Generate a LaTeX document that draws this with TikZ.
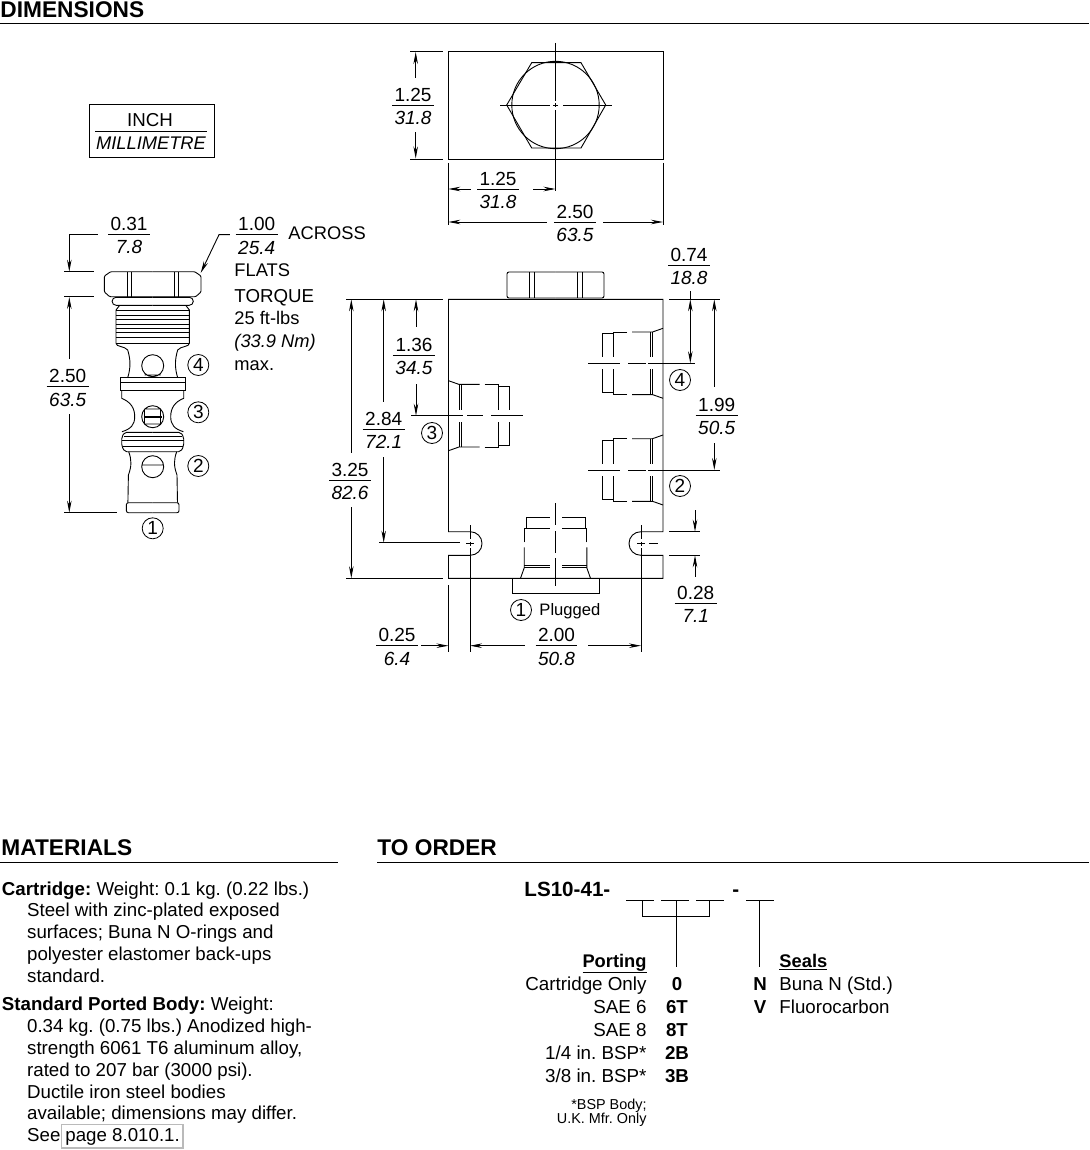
\documentclass[tikz,border=0pt]{standalone}
\usepackage{fontspec}
\setmainfont{Liberation Sans}
\usetikzlibrary{arrows.meta}

\newcommand{\fsize}[1]{\fontsize{#1}{#1}\selectfont}
\newcommand{\dimfrac}[2]{\renewcommand{\arraystretch}{.5}\setlength{\arrayrulewidth}{.9pt}\begin{tabular}{@{\hspace{2.5pt}}c@{\hspace{2.5pt}}}\rule[-3.5pt]{0pt}{25pt}#1\\\hline\rule[-6pt]{0pt}{25pt}\textit{#2}\end{tabular}}
\newcommand{\portcut}[1]{
    \begin{scope}[#1]
        \foreach \s in {1,-1} {
            \draw (0,\s*35) -- (10.5,\s*31.3) -- (31,\s*31.3);
            \draw (36,\s*31.3) -- (50,\s*31.3) -- (50,\s*6);
            \draw (50,\s*29.5) -- (61,\s*29.5) -- (61,\s*6);
            \draw (10.5,\s*31.3) -- (10.5,\s*6);
            \draw (13,\s*31.3) -- (13,\s*6);
        }
    \end{scope}
}

\begin{document}
\frenchspacing
\begin{tikzpicture}[x=1pt,y=-1pt,line width=.9pt,>={Stealth[length=12pt,width=4.5pt]},
        heading/.style={anchor=base west,inner sep=0,font=\fsize{22.7}\bfseries},
        headrule/.style={line width=.8pt},
        dimlabel/.style={inner sep=0,minimum width=62pt,minimum height=54pt,font=\fsize{19}},
        dimline/.style={<-},
        port/.style={circle,draw,inner sep=0,minimum size=21pt,line width=.8pt,font=\fsize{19}},
        note/.style={anchor=base west,inner sep=0,font=\fsize{18.7}},
        order/.style={anchor=base east,inner sep=0,font=\fsize{18.8}},
        code/.style={anchor=base,inner sep=0,font=\fsize{18.7}\bfseries},
        fine/.style={anchor=base east,inner sep=0,font=\fsize{14.4}}]
    \useasboundingbox (0,0) rectangle (1089,1150);

    \node[heading] (headDim) at (0,17.5) {DIMENSIONS};
    \draw[headrule] (0,23) -- (1089,23);
    \node[heading] (headMat) at (1,855) {MATERIALS};
    \draw[headrule] (0,862) -- (338,862);
    \node[heading] (headOrder) at (377,855) {TO ORDER};
    \draw[headrule] (377,862) -- (1089,862);

    % legend
    \draw (89,104) rectangle (214,157);
    \node[font=\fsize{18.7},inner sep=0] (legInch) at (150,120) {INCH};
    \draw (95,131) -- (207,131);
    \node[font=\fsize{18.3}\itshape,inner sep=0] (legMm) at (151,143) {MILLIMETRE};

    % top view
    \draw (448.3,51.7) rectangle (663,159);
    \draw (506.7,105) -- (531.7,62.7) -- (581,62.7) -- (605.7,105) -- (581,148) -- (531.7,148) -- cycle;
    \draw (555.5,105) circle[radius=43.7pt];
    \draw (500,105) -- (550,105) (553,105) -- (558,105) (563,105) -- (612,105);
    \draw (555.5,43) -- (555.5,101) (555.5,103) -- (555.5,107) (555.5,110) -- (555.5,191);
    \draw (410,51.7) -- (443,51.7) (410,159) -- (443,159);
    \draw (448.3,163) -- (448.3,225) (663,163) -- (663,225);

    \coordinate (tipTopA) at (415.7,52);
    \coordinate (tipTopB) at (415.7,158.5);
    \coordinate (tipHalfA) at (448.3,189);
    \coordinate (tipHalfB) at (555.5,189);
    \coordinate (tipWideA) at (448.3,222);
    \coordinate (tipWideB) at (663,222);
    \node[dimlabel] (dimTopH) at (413,105) {\dimfrac{1.25}{31.8}};
    \node[dimlabel] (dimTopV) at (498,189) {\dimfrac{1.25}{31.8}};
    \node[dimlabel,minimum width=55pt] (dimTopW) at (575,222) {\dimfrac{2.50}{63.5}};
    \draw[dimline] (tipTopA) -- (tipTopA |- dimTopH.north);
    \draw[dimline] (tipTopB) -- (tipTopB |- dimTopH.south);
    \draw[dimline] (tipHalfA) -- ([xshift=4pt]dimTopV.west);
    \draw[dimline] (tipHalfB) -- ([xshift=4pt]dimTopV.east);
    \draw[dimline] (tipWideA) -- (dimTopW.west);
    \draw[dimline] (tipWideB) -- (dimTopW.east);

    % cartridge
    \begin{scope}[shift={(152.7,0)}]
        \foreach \s in {1,-1} {
            \begin{scope}[xscale=\s]
                \draw[rounded corners=1pt] (0,271.7) -- (42,271.7) -- (48.3,276) -- (48.3,292) -- (43,296.7) -- (0,296.7);
                \draw (21.3,272) -- (21.3,296.7) (25.7,272) -- (25.7,296.7);
                \draw[rounded corners=4pt] (0,297.3) -- (40.6,297.3) -- (40.6,305.3) -- (0,305.3);
                \draw (33,305.3) -- (36.7,310) -- (36.7,343.3) .. controls (36.7,347) and (28,346) .. (25,350)
                    .. controls (22,360) and (22,368) .. (25,377.7);
                \draw (0,377.7) -- (32.5,377.7) -- (32.5,390) -- (0,390) (0,382.7) -- (32.5,382.7);
                \draw (31,390) -- (31,398.3) .. controls (22,402) and (18,408) .. (18,416.7)
                    .. controls (18,425) and (22,429) .. (30.7,431.7);
                \draw[rounded corners=2pt] (0,432.3) -- (28,432.3) -- (31,437) -- (31,446) -- (28,451.7) -- (0,451.7);
                \draw (0,436.7) -- (29,436.7) (0,440.7) -- (31,440.7) (0,446.7) -- (30,446.7);
                \draw (24,451.7) .. controls (21,460) and (21,466) .. (24.3,475) -- (24.8,502.7);
                \draw[rounded corners=2pt] (0,502.7) -- (26.3,502.7) -- (26.3,512.7) -- (0,512.7);
            \end{scope}
        }
        \draw (-36.7,310) -- (36.7,310) (-36.7,343.3) -- (36.7,343.3);
        \foreach \ty in {315,319.3,324,328.3,332.7,337.3} {
            \draw[line width=.6pt] (-36.7,\ty) -- (36.7,\ty);
        }
        \draw (0,365.7) circle[radius=11pt] (-8,375) -- (8,375);
        \draw (0,416.7) circle[radius=11pt] (-8,409) -- (8,409) (-8,424) -- (8,424);
        \draw[line width=2pt] (-9,416.7) -- (9,416.7);
        \draw (-8,409) -- (-8,424) (8,409) -- (8,424);
        \draw (0,466.7) circle[radius=11pt] (-11,465) -- (11,465);
    \end{scope}
    \node[port] (cartFour) at (198.3,365) {4};
    \node[port] (cartThree) at (198.3,412.3) {3};
    \node[port] (cartTwo) at (198.3,466) {2};
    \node[port] (cartOne) at (152.7,528.3) {1};

    \draw (64,271.7) -- (94,271.7) (64,296.7) -- (94,296.7) (64,512.7) -- (117,512.7);
    \coordinate (tipNut) at (69.3,271.7);
    \coordinate (kneeNut) at (69.3,234.3);
    \coordinate (tipBodyA) at (69.3,297);
    \coordinate (tipBodyB) at (69.3,512.7);
    \coordinate (tipFlat) at (200.7,273);
    \coordinate (kneeFlat) at (219,234.7);
    \node[dimlabel] (dimNut) at (129,234.3) {\dimfrac{0.31}{7.8}};
    \node[dimlabel] (dimCart) at (67.7,386.7) {\dimfrac{2.50}{63.5}};
    \node[dimlabel,minimum width=53pt] (dimFlat) at (256.7,234.7) {\dimfrac{1.00}{25.4}};
    \draw[dimline] (tipNut) -- (kneeNut) -- (dimNut.west);
    \draw[dimline] (tipBodyA) -- (tipBodyA |- dimCart.north);
    \draw[dimline] (tipBodyB) -- (tipBodyB |- dimCart.south);
    \draw[dimline] (tipFlat) -- (kneeFlat) -- (dimFlat.west);

    \node[note,font=\fsize{18.3}] (txtAcross) at (288,240) {ACROSS};
    \node[note,font=\fsize{18.3}] (txtFlats) at (234,276.8) {FLATS};
    \node[note,font=\fsize{18.7}] (txtTorque) at (234,302) {TORQUE};
    \node[note,font=\fsize{18.3}] (txtFtLbs) at (234,324.5) {25 ft-lbs};
    \node[note,font=\fsize{18.3}\itshape] (txtNm) at (234,347.8) {(33.9 Nm)};
    \node[note,font=\fsize{18.3}] (txtMax) at (234,370) {max.};

    % ported body
    \draw (448.5,299.3) -- (448.5,531.7) -- (470,531.7) .. controls (477,531.7) and (482,537) .. (482,543.5)
        .. controls (482,550) and (477,555.3) .. (470,555.3) -- (448.5,555.3) -- (448.5,578.3)
        -- (663,578.3) -- (663,555.3) -- (641,555.3) .. controls (634,555.3) and (629,550) .. (629,543.5)
        .. controls (629,537) and (634,531.7) .. (641,531.7) -- (663,531.7) -- (663,299.3) -- cycle;
    \draw (512,578.3) -- (512,593) -- (599,593) -- (599,578.3);
    \begin{scope}[shift={(555.5,0)}]
        \foreach \s in {1,-1} {
            \begin{scope}[xscale=\s]
                \draw[rounded corners=2pt] (0,272) -- (48.5,272) -- (48.5,298) -- (0,298);
                \draw (21.5,272) -- (21.5,298) (26.5,272) -- (26.5,298);
            \end{scope}
        }
    \end{scope}
    \portcut{shift={(448.5,415.7)}}
    \portcut{shift={(663,363.3)},xscale=-1}
    \portcut{shift={(663,470)},xscale=-1}
    \portcut{shift={(555.5,578.3)},rotate=90}
    \foreach \py in {363.3,470} {
        \draw (588,\py) -- (620,\py) (628,\py) -- (646,\py) (648,\py) -- (663,\py);
    }
    \draw (411,415.7) -- (463,415.7) (467,415.7) -- (483,415.7) (491,415.7) -- (523,415.7);
    \draw (555.5,503) -- (555.5,525) (555.5,531) -- (555.5,553) (555.5,558) -- (555.5,585.5);

    \draw (470,525) -- (470,539) (470,541.5) -- (470,545.5) (470,548) -- (470,651.7);
    \draw (641,525) -- (641,539) (641,541.5) -- (641,545.5) (641,548) -- (641,651.7);
    \draw (379,542.7) -- (460,542.7) (466,543.5) -- (474,543.5) (637,543.5) -- (645,543.5) (649,543.5) -- (658,543.5);
    \draw (448.5,585) -- (448.5,651.7);

    \draw (346,299.3) -- (442.7,299.3) (346,578.3) -- (442.7,578.3);
    \draw (669,299.3) -- (720,299.3) (663,363.3) -- (695,363.3) (663,470) -- (720,470);
    \draw (669,531.7) -- (700,531.7) (669,555.3) -- (700,555.3);

    \coordinate (tipBlockA) at (351.3,299.3);
    \coordinate (tipBlockB) at (351.3,578.3);
    \coordinate (tipSlotA) at (383.7,299.3);
    \coordinate (tipSlotB) at (383.7,542.7);
    \coordinate (tipThreeA) at (416,299.3);
    \coordinate (tipThreeB) at (416,415.7);
    \coordinate (tipFourA) at (690.3,299.3);
    \coordinate (tipFourB) at (690.3,363.3);
    \coordinate (tipTwoA) at (714.3,299.3);
    \coordinate (tipTwoB) at (714.3,470);
    \coordinate (tipHoleA) at (695,531.7);
    \coordinate (tipHoleB) at (695,555.3);
    \coordinate (endHole) at (695,510);
    \coordinate (tipEdge) at (448.5,645.7);
    \coordinate (tipPitchA) at (470,645.7);
    \coordinate (tipPitchB) at (641,645.7);
    \node[dimlabel] (dimBlock) at (350,480) {\dimfrac{3.25}{82.6}};
    \node[dimlabel] (dimSlot) at (383.7,429.3) {\dimfrac{2.84}{72.1}};
    \node[dimlabel,minimum height=56pt] (dimThree) at (414,355.5) {\dimfrac{1.36}{34.5}};
    \node[dimlabel,minimum height=52pt] (dimFour) at (689,265) {\dimfrac{0.74}{18.8}};
    \node[dimlabel,minimum height=56pt] (dimTwo) at (716.7,415) {\dimfrac{1.99}{50.5}};
    \node[dimlabel,minimum height=52pt] (dimHole) at (695.7,603) {\dimfrac{0.28}{7.1}};
    \node[dimlabel,minimum width=48pt] (dimEdge) at (397,645.7) {\dimfrac{0.25}{6.4}};
    \node[dimlabel] (dimPitch) at (556.5,645.7) {\dimfrac{2.00}{50.8}};
    \draw[dimline] (tipBlockA) -- (tipBlockA |- dimBlock.north);
    \draw[dimline] (tipBlockB) -- (tipBlockB |- dimBlock.south);
    \draw[dimline] (tipSlotA) -- (tipSlotA |- dimSlot.north);
    \draw[dimline] (tipSlotB) -- (tipSlotB |- dimSlot.south);
    \draw[dimline] (tipThreeA) -- (tipThreeA |- dimThree.north);
    \draw[dimline] (tipThreeB) -- (tipThreeB |- dimThree.south);
    \draw[<->] (tipFourA) -- (tipFourB);
    \draw (tipFourA) -- (tipFourA |- dimFour.south);
    \draw[dimline] (tipTwoA) -- (tipTwoA |- dimTwo.north);
    \draw[dimline] (tipTwoB) -- (tipTwoB |- dimTwo.south);
    \draw[dimline] (tipHoleA) -- (endHole);
    \draw[dimline] (tipHoleB) -- (tipHoleB |- dimHole.north);
    \draw[dimline] (tipEdge) -- (dimEdge.east);
    \draw[dimline] (tipPitchA) -- (dimPitch.west);
    \draw[dimline] (tipPitchB) -- (dimPitch.east);

    \node[port] (bodyThree) at (432,433) {3};
    \node[port] (bodyFour) at (680,380) {4};
    \node[port] (bodyTwo) at (680,486) {2};
    \node[port] (bodyOne) at (521,610) {1};
    \node[anchor=base west,inner sep=0,font=\fsize{16.6}] (txtPlugged) at (539,615.5) {Plugged};

    % materials
    \node[note] (matCart) at (1.5,895) {\textbf{Cartridge:} Weight: 0.1 kg. (0.22 lbs.)};
    \foreach \ly/\ltxt in {916.7/{Steel with zinc-plated exposed},
            938.3/{surfaces; Buna N O-rings and},
            960.7/{polyester elastomer back-ups},
            982.7/{standard.},
            1032.7/{0.34 kg. (0.75 lbs.) Anodized high-},
            1054.3/{strength 6061 T6 aluminum alloy,},
            1076/{rated to 207 bar (3000 psi).},
            1098/{Ductile iron steel bodies},
            1119.5/{available; dimensions may differ.}} {
        \node[note] (matLine\ly) at (26.7,\ly) {\ltxt};
    }
    \node[note] (matBody) at (1.5,1010.7) {\textbf{Standard Ported Body:} Weight:};
    \node[note] (matSee) at (26.7,1141) {See};
    \node[note] (matPage) at (65,1141) {page 8.010.1.};
    \draw[draw=black!27,line width=1.6pt] (61.5,1124.5) rectangle (183,1148);

    % ordering code
    \node[anchor=base west,inner sep=0,font=\fsize{20.6}\bfseries] (ordPart) at (524,896) {LS10-41-};
    \node[anchor=base,inner sep=0,font=\fsize{20.6}\bfseries] (ordDash) at (735.7,896) {-};
    \coordinate (slotA) at (642.7,900.7);
    \coordinate (slotB) at (676,900.7);
    \coordinate (slotC) at (709.3,900.7);
    \coordinate (slotD) at (759.5,900.7);
    \coordinate (joinA) at (642.7,916.7);
    \coordinate (joinC) at (709.3,916.7);
    \coordinate (endPort) at (676,966.7);
    \coordinate (endSeal) at (759.5,966.7);
    \draw[line width=1.1pt] (626,900.7) -- (654,900.7) (661,900.7) -- (688.7,900.7) (696,900.7) -- (724,900.7) (746,900.7) -- (774,900.7);
    \draw (slotA) -- (joinA) -- (joinC) -- (slotC);
    \draw (slotB) -- (endPort);
    \draw (slotD) -- (endSeal);

    \node[order,font=\fsize{18.3}\bfseries] (ordPortHead) at (647,967.3) {\underline{Porting}};
    \node[note,font=\fsize{18.3}\bfseries] (ordSealHead) at (779,967.3) {\underline{Seals}};
    \foreach \ly/\ltxt/\lcode in {990/Cartridge Only/0,1013.3/SAE 6/6T,1036.3/SAE 8/8T,1059/1\slash 4 in. BSP*/2B,1082.3/3\slash 8 in. BSP*/3B} {
        \node[order] (ordName\lcode) at (647,\ly) {\ltxt};
        \node[code] (ordCode\lcode) at (677,\ly) {\lcode};
    }
    \node[code] (ordCodeN) at (760,990) {N};
    \node[code] (ordCodeV) at (760,1013.3) {V};
    \node[note] (ordNameN) at (779,990) {Buna N (Std.)};
    \node[note] (ordNameV) at (779,1013.3) {Fluorocarbon};
    \node[fine] (ordNoteA) at (647,1109) {*BSP Body;};
    \node[fine] (ordNoteB) at (647,1123) {U.K. Mfr. Only};
\end{tikzpicture}
\end{document}
